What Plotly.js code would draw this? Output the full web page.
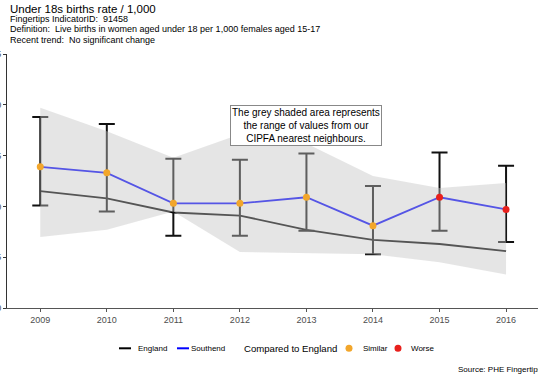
<!DOCTYPE html>
<html>
<head>
<meta charset="utf-8">
<script src="https://cdn.plot.ly/plotly-3.0.1.min.js"></script>
<style>
  html, body { margin: 0; padding: 0; background: #ffffff; }
  #chart { width: 538px; height: 375px; }
</style>
</head>
<body>
<div id="chart"></div>
<script>
// Under 18s births rate per 1,000 females aged 15-17, Southend vs England
const years = [2009, 2010, 2011, 2012, 2013, 2014, 2015, 2016];
const southend = [13.9, 13.3, 10.3, 10.3, 10.9, 8.1, 10.9, 9.7];
const southendUpper = [18.8, 18.1, 14.7, 14.6, 15.2, 12.0, 15.3, 14.0];
const southendLower = [10.1, 9.5, 7.1, 7.1, 7.6, 5.3, 7.6, 6.5];
const england = [11.5, 10.8, 9.4, 9.1, 7.7, 6.7, 6.3, 5.6];
// range across CIPFA nearest neighbours
const neighboursMax = [19.7, 17.4, 14.8, 17.1, 16.2, 13.0, 11.8, 12.3];
const neighboursMin = [7.0, 7.7, 9.5, 5.5, 5.4, 5.3, 4.5, 3.3];
const comparison = ['Similar', 'Similar', 'Similar', 'Similar', 'Similar', 'Similar', 'Worse', 'Worse'];
const yTicks = [0, 5, 10, 15, 20, 25];

const FONT = 'Liberation Sans, Arial, sans-serif';
const lineColours = { England: '#000000', Southend: '#0000FF' };
const compColours = { Similar: '#F2A62B', Worse: '#E8201C' };

// plot area geometry (pixels) used for placing text in paper coordinates
const M = { l: 7, r: 0, t: 54, b: 67 };
const W = 538, H = 375;
const pw = W - M.l - M.r, ph = H - M.t - M.b;
const px = v => (v - M.l) / pw;
const py = v => (H - M.b - v) / ph;

const traces = [];

traces.push({
  x: years, y: england, type: 'scatter', mode: 'lines', name: 'England',
  line: { color: lineColours.England, width: 1.8 }, hoverinfo: 'skip'
});

traces.push({
  x: years, y: southend, type: 'scatter', mode: 'lines', name: 'Southend',
  line: { color: lineColours.Southend, width: 1.8 }, hoverinfo: 'skip',
  error_y: {
    type: 'data', symmetric: false,
    array: southendUpper.map((u, i) => u - southend[i]),
    arrayminus: southendLower.map((l, i) => southend[i] - l),
    color: '#111111', thickness: 2, width: 8
  }
});

// translucent neighbour range drawn over the lines and error bars
traces.push({
  x: years.concat(years.slice().reverse()),
  y: neighboursMax.concat(neighboursMin.slice().reverse()),
  type: 'scatter', mode: 'lines', fill: 'toself', name: 'CIPFA neighbours',
  fillcolor: 'rgba(195,195,195,0.435)', line: { width: 0 }, hoverinfo: 'skip'
});

['Similar', 'Worse'].forEach(cat => {
  const idx = years.map((_, i) => i).filter(i => comparison[i] === cat);
  traces.push({
    x: idx.map(i => years[i]), y: idx.map(i => southend[i]),
    type: 'scatter', mode: 'markers', name: cat,
    marker: { color: compColours[cat], size: 7, line: { width: 0 } },
    hoverinfo: 'skip'
  });
});

const subtitle = [
  'Fingertips IndicatorID:  91458',
  'Definition:  Live births in women aged under 18 per 1,000 females aged 15-17',
  'Recent trend:  No significant change'
];
const subY = [18.5, 29.5, 39.5];

const textAt = (x, y, text, size, extra) => Object.assign({
  xref: 'paper', yref: 'paper', x: px(x), y: py(y), xanchor: 'left', yanchor: 'middle',
  text: text, showarrow: false, font: { family: FONT, size: size, color: '#000' }
}, extra || {});

// legend row along the bottom
const LEG_Y = 348.3;
const legendLines = [
  { name: 'England', x0: 119, x1: 131, tx: 136 },
  { name: 'Southend', x0: 177, x1: 189, tx: 189 }
];
const legendDots = [
  { name: 'Similar', cx: 349, tx: 361 },
  { name: 'Worse', cx: 398, tx: 409 }
];

const shapes = [];
legendLines.forEach(l => shapes.push({
  type: 'line', xref: 'paper', yref: 'paper', layer: 'above',
  x0: px(l.x0), x1: px(l.x1), y0: py(LEG_Y), y1: py(LEG_Y),
  line: { color: lineColours[l.name], width: 2 }
}));
legendDots.forEach(d => shapes.push({
  type: 'circle', xref: 'paper', yref: 'paper', layer: 'above',
  xsizemode: 'pixel', ysizemode: 'pixel', xanchor: px(d.cx), yanchor: py(LEG_Y),
  x0: -3.5, x1: 3.5, y0: -3.5, y1: 3.5,
  fillcolor: compColours[d.name], line: { width: 0 }
}));

const annotations = [
  textAt(8, 8.5, 'Under 18s births rate / 1,000', 11.5),
  ...subtitle.map((t, i) => textAt(8, subY[i], t, 9)),
  {
    xref: 'x', yref: 'y', x: 2013, y: 18, xanchor: 'center', yanchor: 'middle',
    text: 'The grey shaded area represents<br>the range of values from our<br>CIPFA nearest neighbours.',
    showarrow: false, align: 'center', bgcolor: '#ffffff', bordercolor: '#888888',
    borderwidth: 1, borderpad: 1, font: { family: FONT, size: 10, color: '#000' }
  },
  ...legendLines.map(l => textAt(l.tx, LEG_Y, l.name, 8)),
  textAt(242, LEG_Y, 'Compared to England', 9.6),
  ...legendDots.map(d => textAt(d.tx, LEG_Y, d.name, 8)),
  textAt(456, 369, 'Source: PHE Fingertips', 8)
];

const layout = {
  width: W, height: H,
  margin: M,
  paper_bgcolor: '#ffffff', plot_bgcolor: '#ffffff',
  font: { family: FONT, color: '#000' },
  showlegend: false,
  xaxis: {
    range: [2008.5, 2016.48], tickvals: years, ticktext: years.map(String),
    showgrid: false, zeroline: false, showline: true, linecolor: '#555555', linewidth: 1,
    ticks: 'outside', ticklen: 3, tickcolor: '#555555',
    tickfont: { family: FONT, size: 9, color: '#4d4d4d' }, fixedrange: true
  },
  yaxis: {
    range: [0, 25], tickvals: yTicks, ticktext: yTicks.map(String),
    showgrid: false, zeroline: false, showline: true, linecolor: '#333333', linewidth: 1,
    ticks: 'outside', ticklen: 3, tickcolor: '#333333',
    tickfont: { family: FONT, size: 9, color: '#4d4d4d' }, fixedrange: true
  },
  shapes: shapes,
  annotations: annotations
};

Plotly.newPlot('chart', traces, layout, { displayModeBar: false, staticPlot: true });
</script>
</body>
</html>
